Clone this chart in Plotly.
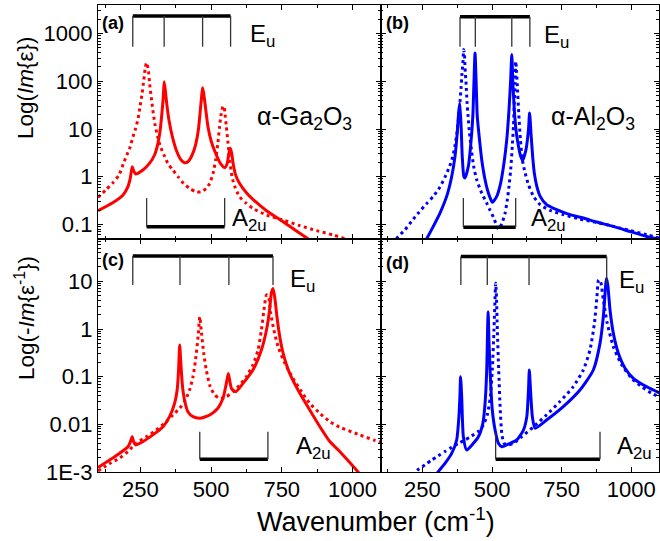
import plotly.graph_objects as go

FONT = "Liberation Sans"
RED = "#ff0000"
BLUE = "#0000ff"

# ---------------- data ----------------
# (a) alpha-Ga2O3, Im{eps}: Eu (solid) and A2u (dotted)
GA_EPS_EU_X = [100, 152, 188, 206, 214, 221, 226, 233, 259, 282, 300, 312, 320, 326, 331, 334, 338, 343, 351, 363,
               377, 394, 406, 418, 433, 445, 455, 462, 467, 470, 474, 480, 489, 501, 516, 533, 548, 557, 563, 568,
               573, 578, 587, 601, 625, 648, 696, 755, 814, 849, 880]
GA_EPS_EU_Y = [0.194, 0.285, 0.41, 0.62, 0.92, 1.62, 1.34, 1.14, 1.38, 1.9, 2.85, 5.0, 9.5, 21.3, 47.7, 98, 66, 34.5,
               15.4, 6.9, 3.6, 2.24, 1.97, 2.06, 2.85, 4.6, 9.5, 25, 51, 73.6, 55, 29, 11.2, 5.4, 3.1, 1.9, 1.55, 1.9,
               3.1, 3.93, 3.1, 1.9, 1.08, 0.72, 0.46, 0.335, 0.194, 0.114, 0.065, 0.047, 0.036]
GA_EPS_A2U_X = [100, 127, 153, 174, 190, 202, 214, 223, 233, 242, 249, 256, 262, 267, 272, 278, 282, 288, 294, 301,
                311, 321, 336, 347, 365, 383, 403, 424, 448, 465, 483, 495, 507, 516, 524, 530, 536, 542, 546, 549,
                554, 560, 566, 574, 584, 601, 625, 648, 696, 755, 814, 873, 932, 1000, 1100]
GA_EPS_A2U_Y = [0.37, 0.525, 0.75, 1.08, 1.9, 2.85, 4.26, 6.7, 10.3, 16.7, 30.4, 56, 107, 187, 246, 173, 98, 47.7, 25,
                13.1, 6.9, 4.26, 2.63, 1.9, 1.38, 1.0, 0.72, 0.57, 0.48, 0.48, 0.57, 0.72, 1.17, 2.24, 5.0, 11.2, 21.3,
                29.5, 30, 21.3, 11.2, 5.0, 2.24, 1.0, 0.62, 0.38, 0.275, 0.217, 0.157, 0.123, 0.094, 0.074, 0.06,
                0.045, 0.033]

# (b) alpha-Al2O3, Im{eps}
AL_EPS_EU_X = [255, 265, 289, 313, 337, 355, 367, 375, 380, 384, 389, 393, 399, 403, 415, 423, 431, 435, 439, 443,
               447, 455, 463, 475, 487, 499, 502, 517, 531, 543, 553, 561, 567, 571, 575, 580, 586, 595, 603, 610,
               622, 631, 635, 640, 646, 652, 661, 673, 696, 732, 780, 828, 876, 936, 996, 1056, 1104]
AL_EPS_EU_Y = [0.04, 0.05, 0.091, 0.173, 0.387, 1.0, 2.67, 8.25, 21.7, 35, 11.4, 2.67, 1.0, 0.94, 1.65, 4.33, 18.4, 92,
               393, 92, 18.4, 5.97, 2.27, 0.865, 0.454, 0.304, 0.29, 0.387, 0.736, 1.94, 5.97, 25.5, 108, 363, 92, 25.5,
               9.7, 4.33, 2.67, 2.2, 3.68, 9.7, 21.7, 8.25, 2.67, 1.19, 0.627, 0.387, 0.259, 0.203, 0.16, 0.136,
               0.112, 0.091, 0.071, 0.056, 0.049]
AL_EPS_A2U_X = [140, 158, 187, 211, 235, 265, 289, 313, 331, 347, 359, 367, 373, 379, 385, 389, 392, 396, 398, 401,
                403, 407, 410, 414, 419, 426, 434, 445, 463, 481, 493, 505, 513, 523, 535, 547, 555, 561, 567, 572,
                577, 580, 583, 585, 587, 591, 596, 602, 609, 619, 631, 649, 673, 708, 756, 816, 876, 936, 996, 1056,
                1104]
AL_EPS_A2U_Y = [0.04, 0.052, 0.077, 0.116, 0.173, 0.272, 0.387, 0.607, 0.984, 1.6, 2.67, 4.47, 7.6, 15.2, 38, 76, 144,
                275, 462, 362, 190, 85, 38, 18.4, 8.25, 3.68, 1.65, 0.865, 0.454, 0.28, 0.197, 0.142, 0.107, 0.08,
                0.103, 0.173, 0.329, 0.627, 1.4, 3.68, 11.4, 35, 92, 263, 206, 78.5, 21.7, 5.97, 2.27, 1.19, 0.68,
                0.387, 0.259, 0.197, 0.16, 0.129, 0.11, 0.091, 0.074, 0.061, 0.051]

# (c) alpha-Ga2O3, -Im{1/eps}
GA_LOSS_EU_X = [100, 141, 176, 206, 214, 221, 226, 233, 259, 294, 330, 353, 371, 380, 385, 389, 393, 399, 406, 418,
                436, 460, 495, 524, 542, 554, 561, 572, 587, 613, 648, 678, 696, 707, 713, 719, 725, 733, 743, 755,
                778, 814, 849, 885, 920, 955, 1020, 1050]
GA_LOSS_EU_Y = [0.00124, 0.00178, 0.00246, 0.00339, 0.0042, 0.0055, 0.0043, 0.0037, 0.00435, 0.006, 0.0089, 0.0145,
                0.0276, 0.0525, 0.138, 0.46, 0.19, 0.0617, 0.0324, 0.0184, 0.0145, 0.0134, 0.0157, 0.0217, 0.0351,
                0.0725, 0.117, 0.0569, 0.0484, 0.0725, 0.138, 0.363, 0.953, 2.5, 5.6, 7.1, 4.77, 1.81, 0.69, 0.309,
                0.117, 0.0447, 0.02, 0.0089, 0.00435, 0.0027, 0.001, 0.0006]
GA_LOSS_A2U_X = [100, 141, 176, 206, 235, 271, 306, 342, 365, 389, 406, 424, 436, 445, 454, 460, 465, 474, 483, 497,
                 513, 530, 554, 578, 601, 625, 648, 666, 678, 687, 696, 703, 711, 722, 737, 761, 790, 820, 849, 885,
                 920, 955, 1020, 1079, 1100]
GA_LOSS_A2U_Y = [0.00105, 0.0015, 0.00195, 0.0027, 0.004, 0.0055, 0.0076, 0.0114, 0.0158, 0.0217, 0.03, 0.0525, 0.1,
                 0.224, 0.69, 1.8, 0.95, 0.31, 0.138, 0.0617, 0.0412, 0.0351, 0.038, 0.0484, 0.0668, 0.1, 0.176,
                 0.363, 0.953, 2.5, 5.2, 4.77, 2.13, 0.953, 0.426, 0.19, 0.092, 0.0484, 0.0276, 0.017, 0.0114,
                 0.0087, 0.0062, 0.0046, 0.0042]

# (d) alpha-Al2O3, -Im{1/eps}
AL_LOSS_EU_X = [295, 307, 331, 355, 373, 381, 385, 387, 391, 397, 409, 433, 451, 467, 475, 481, 484, 486, 489, 494,
                501, 511, 523, 535, 565, 589, 613, 625, 631, 634, 639, 645, 655, 696, 756, 816, 864, 888, 900, 907,
                911, 916, 924, 936, 954, 978, 1008, 1044, 1080, 1104]
AL_LOSS_EU_Y = [0.0008, 0.00102, 0.00152, 0.00246, 0.0047, 0.0145, 0.0447, 0.1, 0.038, 0.0055, 0.0029, 0.004, 0.0055,
                0.0105, 0.0276, 0.138, 0.953, 2.31, 0.588, 0.1, 0.02, 0.0076, 0.004, 0.0034, 0.004, 0.0047, 0.0076,
                0.0145, 0.0525, 0.138, 0.0447, 0.0145, 0.0083, 0.0123, 0.0235, 0.0525, 0.138, 0.5, 1.81, 6.6, 11.6,
                8.4, 2.5, 0.81, 0.309, 0.15, 0.092, 0.0668, 0.0525, 0.0447]
AL_LOSS_A2U_X = [215, 232, 259, 283, 307, 331, 355, 379, 403, 427, 451, 469, 483, 494, 501, 507, 511, 513, 516, 519,
                 524, 529, 535, 543, 555, 577, 607, 649, 696, 744, 792, 828, 852, 868, 877, 883, 890, 900, 914, 936,
                 966, 1002, 1038, 1074, 1104]
AL_LOSS_A2U_Y = [0.00085, 0.0011, 0.0014, 0.00178, 0.00218, 0.0027, 0.0033, 0.004, 0.0047, 0.0057, 0.0071, 0.0097,
                 0.0158, 0.038, 0.138, 0.95, 4.77, 9.1, 4.77, 0.95, 0.138, 0.0235, 0.0065, 0.004, 0.0037, 0.004,
                 0.0055, 0.0089, 0.0158, 0.03, 0.0617, 0.138, 0.363, 1.32, 4.77, 10.7, 9.8, 4.06, 1.32, 0.426, 0.176,
                 0.092, 0.0617, 0.0447, 0.037]

# phonon mode positions marked by the brackets (cm^-1)
GA_EU_TO = [223, 334, 470, 569]
GA_A2U_TO = [272, 548]
AL_EU_TO = [385, 440, 571, 636]
AL_A2U_TO = [397, 585]
GA_EU_LO = [223, 390, 563, 719]
GA_A2U_LO = [460, 701]
AL_EU_LO = [388, 483, 633, 912]
AL_A2U_LO = [513, 888]

# axis ticks
X_TICKS = [250, 500, 750, 1000]
X_TICK_TEXT = ["250", "500", "750", "1000"]
Y_TOP_TICKS = [0.1, 1, 10, 100, 1000]
Y_TOP_TEXT = ["0.1", "1", "10", "100", "1000"]
Y_BOT_TICKS = [0.001, 0.01, 0.1, 1, 10]
Y_BOT_TEXT = ["1E-3", "0.01", "0.1", "1", "10"]

# ---------------- layout geometry ----------------
W, H = 660, 541
ML, MR, MT, MB = 98, 0, 5, 69
PW = W - ML - MR
PH = H - MT - MB


def fx(px):
    return (px - ML) / PW


def fy(py):
    return (H - MB - py) / PH


XS = fx(380.7)
XE = fx(659)
YS = fy(239)

fig = go.Figure()

solid = dict(width=3, shape="spline", smoothing=0.6)
dotted = dict(width=3, shape="spline", smoothing=0.6, dash="3px,3.5px")

panels = [
    ("x", "y", GA_EPS_EU_X, GA_EPS_EU_Y, GA_EPS_A2U_X, GA_EPS_A2U_Y, RED),
    ("x2", "y2", AL_EPS_EU_X, AL_EPS_EU_Y, AL_EPS_A2U_X, AL_EPS_A2U_Y, BLUE),
    ("x3", "y3", GA_LOSS_EU_X, GA_LOSS_EU_Y, GA_LOSS_A2U_X, GA_LOSS_A2U_Y, RED),
    ("x4", "y4", AL_LOSS_EU_X, AL_LOSS_EU_Y, AL_LOSS_A2U_X, AL_LOSS_A2U_Y, BLUE),
]
for xa, ya, ex, ey, ax_, ay, col in panels:
    fig.add_trace(go.Scatter(x=ax_, y=ay, mode="lines", line=dict(color=col, **dotted),
                             xaxis=xa, yaxis=ya, showlegend=False, hoverinfo="skip"))
    fig.add_trace(go.Scatter(x=ex, y=ey, mode="lines", line=dict(color=col, **solid),
                             xaxis=xa, yaxis=ya, showlegend=False, hoverinfo="skip"))

tickfont = dict(family=FONT, size=22, color="black")
common = dict(showline=True, linecolor="black", linewidth=1.3, mirror="ticks", ticks="inside",
              ticklen=5, tickwidth=1.2, tickcolor="black", showgrid=False, zeroline=False,
              tickfont=tickfont, automargin=False)


def minor_log(lo, hi):
    vals = []
    for e in range(lo, hi + 1):
        for m in range(2, 10):
            vals.append(m * 10.0 ** e)
    return dict(ticks="inside", ticklen=2.5, tickwidth=1, tickcolor="black", tickmode="array", tickvals=vals,
                showgrid=False)


xminor = dict(ticks="inside", ticklen=2.5, tickwidth=1, tickcolor="black", dtick=125, tick0=0, showgrid=False)

xax = dict(range=[100, 1100], tickmode="array", tickvals=X_TICKS, ticktext=X_TICK_TEXT, minor=xminor, **common)
ytop = dict(type="log", range=[-1.306, 3.6], tickmode="array", tickvals=Y_TOP_TICKS, ticktext=Y_TOP_TEXT,
            minor=minor_log(-2, 3), **common)
ybot = dict(type="log", range=[-3, 1.888], tickmode="array", tickvals=Y_BOT_TICKS, ticktext=Y_BOT_TEXT,
            minor=minor_log(-3, 1), **common)

fig.update_layout(
    width=W, height=H, margin=dict(l=ML, r=MR, t=MT, b=MB, autoexpand=False), paper_bgcolor="white",
    plot_bgcolor="white",
    xaxis=dict(domain=[0, XS], anchor="y", showticklabels=False, **xax),
    xaxis2=dict(domain=[XS, XE], anchor="y2", showticklabels=False, **xax),
    xaxis3=dict(domain=[0, XS], anchor="y3", showticklabels=True, ticklabelstandoff=-3, **xax),
    xaxis4=dict(domain=[XS, XE], anchor="y4", showticklabels=True, ticklabelstandoff=-3, **xax),
    yaxis=dict(domain=[YS, 1], anchor="x", showticklabels=True, **ytop),
    yaxis2=dict(domain=[YS, 1], anchor="x2", showticklabels=False, **ytop),
    yaxis3=dict(domain=[0, YS], anchor="x3", showticklabels=True, **ybot),
    yaxis4=dict(domain=[0, YS], anchor="x4", showticklabels=False, **ybot),
)

# ---------------- mode brackets ----------------
shapes = []


def eu_bracket(xa, ya, modes, ytop_, ybot_):
    yref = ya + " domain"
    shapes.append(dict(type="line", xref=xa, yref=yref, x0=modes[0], x1=modes[-1], y0=ytop_, y1=ytop_,
                       line=dict(color="black", width=3.5)))
    for m in modes:
        shapes.append(dict(type="line", xref=xa, yref=yref, x0=m, x1=m, y0=ytop_, y1=ybot_,
                           line=dict(color="#333333", width=1.3)))


def a2u_bracket(xa, ya, modes, ytop_, ybot_):
    yref = ya + " domain"
    shapes.append(dict(type="line", xref=xa, yref=yref, x0=modes[0], x1=modes[-1], y0=ybot_, y1=ybot_,
                       line=dict(color="black", width=3.5)))
    for m in modes:
        shapes.append(dict(type="line", xref=xa, yref=yref, x0=m, x1=m, y0=ytop_, y1=ybot_,
                           line=dict(color="#333333", width=1.3)))


eu_bracket("x", "y", GA_EU_TO, 0.953, 0.822)
eu_bracket("x2", "y2", AL_EU_TO, 0.950, 0.822)
a2u_bracket("x", "y", GA_A2U_TO, 0.175, 0.052)
a2u_bracket("x2", "y2", AL_A2U_TO, 0.175, 0.050)
eu_bracket("x3", "y3", GA_EU_LO, 0.927, 0.803)
eu_bracket("x4", "y4", AL_EU_LO, 0.925, 0.803)
a2u_bracket("x3", "y3", GA_A2U_LO, 0.173, 0.055)
a2u_bracket("x4", "y4", AL_A2U_LO, 0.173, 0.055)
fig.update_layout(shapes=shapes)

# ---------------- text ----------------
ann = []


def text(px, py, s, size, xanchor="left", bold=False, angle=0):
    if bold:
        s = "<b>" + s + "</b>"
    ann.append(dict(x=fx(px), y=fy(py), xref="paper", yref="paper", text=s, showarrow=False,
                    xanchor=xanchor, yanchor="middle", textangle=angle,
                    font=dict(family=FONT, size=size, color="black")))


text(100, 23, "(a)", 18, bold=True)
text(384, 23, "(b)", 18, bold=True)
text(100, 260, "(c)", 18, bold=True)
text(384, 263, "(d)", 18, bold=True)
text(248, 35, "E<sub>u</sub>", 24)
text(542, 37, "E<sub>u</sub>", 24)
text(288, 280, "E<sub>u</sub>", 24)
text(617, 281, "E<sub>u</sub>", 24)
text(230, 219, "A<sub>2u</sub>", 24)
text(529, 219, "A<sub>2u</sub>", 24)
text(294, 447, "A<sub>2u</sub>", 24)
text(615, 447, "A<sub>2u</sub>", 24)
text(255, 118, "α-Ga<sub>2</sub>O<sub>3</sub>", 25)
text(549, 118, "α-Al<sub>2</sub>O<sub>3</sub>", 25)
text(25, 88, "Log(<i>Im</i>{ε})", 22.5, xanchor="center", angle=-90)
text(25, 318, "Log(-<i>Im</i>{ε<sup>-1</sup>})", 22.5, xanchor="center", angle=-90)
text(376, 520, "Wavenumber (cm<sup>-1</sup>)", 27, xanchor="center")
fig.update_layout(annotations=ann)

fig.write_html("out.html", config={"displayModeBar": False},
               post_script="document.body.style.margin='0';document.body.style.overflow='hidden';")
